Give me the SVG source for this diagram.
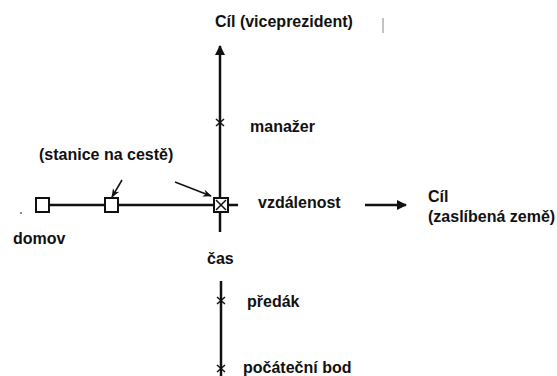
<svg xmlns="http://www.w3.org/2000/svg" width="557" height="376" viewBox="0 0 557 376">
<style>
text{font-family:"Liberation Sans",Arial,sans-serif;font-weight:bold;font-size:16px;fill:#111}
.ln{stroke:#111;stroke-width:2.5;fill:none}
.thin{stroke:#111;stroke-width:1.5;fill:none}
.box{fill:#fff;stroke:#111;stroke-width:2}
</style>
<defs>
<marker id="ah" viewBox="0 0 10 10" refX="9" refY="5" markerWidth="4" markerHeight="4" orient="auto-start-reverse"><path d="M0,0L10,5L0,10z" fill="#111"/></marker>
<marker id="ahs" viewBox="0 0 10 10" refX="9" refY="5" markerWidth="6" markerHeight="6" orient="auto"><path d="M0,1L10,5L0,9L3,5z" fill="#111"/></marker>
</defs>
<g id="connectors">
<line class="ln" x1="220" y1="46" x2="220" y2="232" marker-start="url(#ah)"/>
<line class="ln" x1="221" y1="281" x2="221" y2="376"/>
<line class="ln" x1="49" y1="205" x2="238" y2="205"/>
<line class="ln" x1="365" y1="205" x2="406" y2="205" marker-end="url(#ah)"/>
<line class="thin" x1="122" y1="180" x2="112" y2="197" marker-end="url(#ahs)"/>
<line class="thin" x1="175" y1="182" x2="211" y2="196" marker-end="url(#ahs)"/>
<path class="thin" d="M216,119L224,126M224,119L216,126M217,297L225,304M225,297L217,304M217,365L225,372M225,365L217,372"/>
<line x1="383" y1="18" x2="383" y2="33" stroke="#888" stroke-width="1"/>
<circle cx="21" cy="213" r="1" fill="#666"/>
</g>
<g id="home"><rect class="box" x="36" y="198" width="13" height="14"/><text x="13" y="244">domov</text></g>
<g id="station"><rect class="box" x="105" y="198" width="13" height="14"/><text x="39" y="160">(stanice na cestě)</text></g>
<g id="cross"><rect class="box" x="214" y="198" width="14" height="14"/><path class="thin" d="M216,200L226,210M226,200L216,210"/></g>
<g id="goal-vp"><text x="215" y="27">Cíl (viceprezident)</text></g>
<g id="manager"><text x="250" y="132">manažer</text></g>
<g id="distance"><text x="258" y="208">vzdálenost</text></g>
<g id="goal-land"><text x="428" y="202">Cíl</text><text x="428" y="222">(zaslíbená země)</text></g>
<g id="time"><text x="207" y="264">čas</text></g>
<g id="foreman"><text x="247" y="307">předák</text></g>
<g id="start"><text x="243" y="373">počáteční bod</text></g>
</svg>
